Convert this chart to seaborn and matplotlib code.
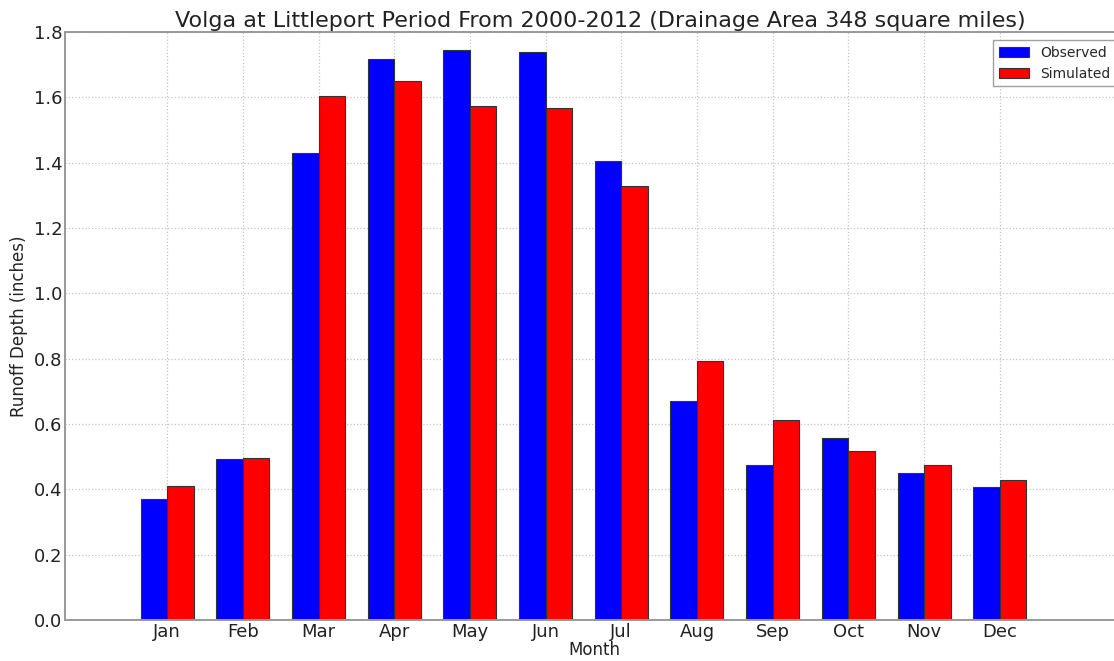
import numpy as np
import pandas as pd
import matplotlib
matplotlib.use("Agg")
import matplotlib.pyplot as plt
import seaborn as sns

months = ["Jan", "Feb", "Mar", "Apr", "May", "Jun", "Jul", "Aug", "Sep", "Oct", "Nov", "Dec"]
observed = [0.369, 0.492, 1.429, 1.716, 1.745, 1.740, 1.406, 0.669, 0.473, 0.556, 0.451, 0.408]
simulated = [0.410, 0.495, 1.604, 1.650, 1.574, 1.568, 1.329, 0.793, 0.611, 0.517, 0.474, 0.428]
series = ["Observed", "Simulated"]

df = pd.DataFrame({
    "Month": months * 2,
    "value": observed + simulated,
    "series": [series[0]] * len(months) + [series[1]] * len(months),
})

sns.set_theme(style="white")
plt.rcParams['font.family'] = ['DejaVu Sans']

fig = plt.figure(figsize=(11.14, 6.61), dpi=100)
ax = fig.add_axes([65 / 1114, 41 / 661, (1124.6 - 65) / 1114, 588 / 661])

sns.barplot(data=df, x="Month", y="value", hue="series", order=months,
            hue_order=series, palette={"Observed": "#0000ff", "Simulated": "#ff0000"},
            width=0.7, saturation=1, edgecolor="#333333", linewidth=0.8, ax=ax,
            errorbar=None)

ax.set_xlim(-1.35, 12.65)
ax.set_ylim(0, 1.8)
ax.set_yticks(np.arange(0, 1.81, 0.2))
ax.set_yticklabels([f"{v:.1f}" for v in np.arange(0, 1.81, 0.2)], fontsize=13, color="#222222")
ax.tick_params(axis="x", labelsize=13, pad=2, length=0, labelcolor="#222222")
ax.tick_params(axis="y", pad=2, length=0)
ax.grid(True, color="#c4c4c4", linestyle=":", linewidth=0.9)
ax.set_axisbelow(True)
for s in ax.spines.values():
    s.set_color("#999999")
    s.set_linewidth(1.4)

ax.set_xlabel("Month", fontsize=12, labelpad=0, color="#222222")
ax.set_ylabel("Runoff Depth (inches)", fontsize=12, labelpad=4, color="#222222")
fig.text(0.539, 0.968, "Volga at Littleport Period From 2000-2012 (Drainage Area 348 square miles)",
         ha="center", va="center", fontsize=16, color="#222222")

leg = ax.legend(loc="upper right", fontsize=10, frameon=True, fancybox=False,
                edgecolor="#888888", handlelength=2.2, borderaxespad=0.6)
leg.get_frame().set_linewidth(1.0)

fig.savefig("out.png", dpi=100)
